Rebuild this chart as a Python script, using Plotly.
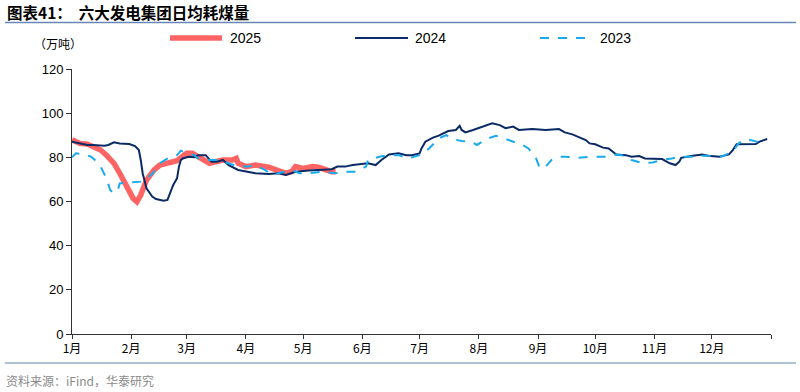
import plotly.graph_objects as go

# ---------------- data ----------------
dates_2025 = ["01-01","01-05","01-09","01-12","01-16","01-19","01-23","01-26","01-29","01-31",
              "02-02","02-04","02-06","02-09","02-13","02-16","02-20","02-25","03-01","03-04",
              "03-07","03-13","03-16","03-20","03-25","03-27","03-28","04-01","04-06","04-09",
              "04-13","04-18","04-22","04-25","04-27","05-01","05-06","05-09","05-13","05-16","05-18"]
vals_2025 = [88,86.3,86,84.8,83.3,81,77.3,72.8,68.2,64.4,
             61.4,59.9,62.9,69.7,74.3,76.5,77.3,78.5,81.8,81.8,
             80.3,77.3,78,78.8,78.8,79.5,77.3,75.8,76.5,76,
             75.5,74,72.8,73.5,75.8,75,75.8,75.5,74.3,73.5,73.5]

dates_2024 = ["01-01","01-05","01-09","01-12","01-18","01-20","01-23","01-26","01-31","02-03",
              "02-05","02-06","02-07","02-09","02-12","02-14","02-18","02-20","02-21","02-23",
              "02-25","02-26","02-27","02-28","03-02","03-05","03-07","03-11","03-14","03-17",
              "03-20","03-23","03-28","04-01","04-06","04-13","04-18","04-22","04-27","05-04",
              "05-11","05-16","05-19","05-23","05-27","06-01","06-04","06-08","06-11","06-15",
              "06-20","06-24","06-27","07-01","07-02","07-04","07-08","07-11","07-14","07-16",
              "07-20","07-22","07-23","07-25","07-29","08-01","08-05","08-08","08-12","08-15",
              "08-19","08-22","08-29","09-05","09-12","09-15","09-19","09-22","09-26","09-28",
              "10-01","10-05","10-08","10-12","10-17","10-20","10-24","10-27","11-02","11-05",
              "11-09","11-12","11-14","11-15","11-21","11-26","11-29","12-05","12-10","12-12",
              "12-14","12-19","12-24","12-26","12-30"]
vals_2024 = [87.1,86.3,85.6,85.6,85.3,85.6,86.8,86.3,86,85.1,
             83.3,78.8,72.8,66,62.2,61.1,60.4,60.7,62.9,67.5,
             70.5,75.8,78.8,79.5,80.3,80,81,81,78,78,
             78.8,76.5,74.3,73.5,72.8,72.5,72.8,72,73.5,74,
             74.3,74.6,75.8,75.8,76.5,77,77.3,76.5,78.8,81.3,
             81.8,81,81,81.8,84,87.1,88.9,89.8,90.9,91.9,
             92.4,94.3,92.4,91.3,92.4,93.2,94.6,95.4,94.6,93.2,
             93.9,92.4,92.8,92.4,92.8,91.3,90.4,89.3,87.8,86.3,
             85.9,84.4,84,81.3,81,80.3,80.6,79.5,79.1,79.2,
             77.3,76.5,78,79.8,80.7,81.3,80.7,80.3,81.3,83.3,
             85.9,86,86,87.1,88.3]

dates_2023 = ["01-01","01-03","01-07","01-11","01-13","01-16","01-19","01-21","01-23","01-25",
              "01-26","01-30","02-02","02-06","02-09","02-13","02-16","02-20","02-25","02-27",
              "03-01","03-05","03-07","03-13","03-18","03-23","03-28","04-02","04-06","04-11",
              "04-15","04-18","04-22","04-25","04-29","05-04","05-11","05-18","05-23","05-28",
              "06-03","06-04","06-10","06-15","06-20","06-25","07-01","07-06","07-11","07-15",
              "07-18","07-23","07-28","07-31","08-05","08-10","08-13","08-19","08-24","08-27",
              "08-31","09-02","09-05","09-08","09-12","09-15","09-22","09-29","10-06","10-12",
              "10-17","10-20","10-26","10-31","11-05","11-10","11-15","11-21","11-26","12-01",
              "12-06","12-12","12-15","12-19","12-22","12-26","12-29"]
vals_2023 = [80,81.8,81.5,80.3,78.8,75.8,70.5,65.2,63.7,65.2,
             68.2,68.5,68.5,69,70,73.5,77.3,79.5,81,83,
             81.8,81,79.5,78.8,78.8,77.3,75.8,75.8,76.5,74.3,
             72,72.8,73.5,74.3,72.8,72.8,73.5,72.8,73.5,73.5,
             75.8,78.8,80.3,81,81,79.5,81,84,88.6,90.1,
             88.3,87.4,87.1,85.6,88.3,89.8,88.9,87.1,85.6,84,
             79.5,75,75.8,78.8,80.3,80.3,79.8,80.3,80.3,81.3,
             80.7,78.8,77.3,77.7,78.8,79.5,80.3,80.3,80.7,80.7,
             80.3,82.6,86.3,88.3,87.8,86.8,87]

month_ticks = ["2024-01-01","2024-02-01","2024-03-01","2024-04-01","2024-05-01","2024-06-01",
               "2024-07-01","2024-08-01","2024-09-01","2024-10-01","2024-11-01","2024-12-01","2025-01-01"]
month_labels = ["1月","2月","3月","4月","5月","6月","7月","8月","9月","10月","11月","12月",""]

def on_axis(md):
    return ["2024-" + d for d in md]

# layout geometry (pixels)
W, H = 800, 392
L, R, T, B = 72, 29, 69, 58
PW, PH = W - L - R, H - T - B
def px(x):
    return (x - L) / PW
def py(y):
    return (H - B - y) / PH

CJK = "Noto Sans CJK SC"
series = [
    ("2025", dates_2025, vals_2025, dict(color="#FF6464", width=5.5), 170, 222, 228),
    ("2024", dates_2024, vals_2024, dict(color="#0B2A66", width=2), 355, 408, 413),
    ("2023", dates_2023, vals_2023, dict(color="#1AAAEE", width=2, dash="dash"), 540, 592, 598),
]

fig = go.Figure()
for name, d, v, ln, _, _, _ in series:
    fig.add_trace(go.Scatter(x=on_axis(d), y=v, name=name, mode="lines", line=ln))

fig.update_layout(
    width=W, height=H,
    margin=dict(l=L, r=R, t=T, b=B),
    paper_bgcolor="white", plot_bgcolor="white",
    showlegend=False,
    xaxis=dict(type="date", range=["2024-01-01", "2025-01-01"],
               tickmode="array", tickvals=month_ticks, ticktext=month_labels,
               ticks="outside", ticklen=4, tickcolor="#333", showgrid=False,
               showline=True, linecolor="#333", linewidth=1, zeroline=False,
               tickfont=dict(family=CJK, size=12, color="#000")),
    yaxis=dict(range=[0, 120], dtick=20, tick0=0, ticks="outside", ticklen=5,
               tickcolor="#333", showgrid=False, showline=True, linecolor="#333",
               linewidth=1, zeroline=False,
               tickfont=dict(family="Liberation Sans, Arial", size=13, color="#000")),
    font=dict(family=CJK),
)

# manual legend
for name, _, _, ln, x0, x1, xt in series:
    fig.add_shape(type="line", xref="paper", yref="paper", x0=px(x0), x1=px(x1),
                  y0=py(38), y1=py(38), line=dict(ln))
    fig.add_annotation(text=name, xref="paper", yref="paper", x=px(xt), y=py(38),
                       xanchor="left", yanchor="middle", showarrow=False,
                       font=dict(family="Liberation Sans, Arial", size=14, color="#000"))

fig.add_annotation(text="<b>图表41：  六大发电集团日均耗煤量</b>", xref="paper", yref="paper",
                   x=px(5), y=py(12), xanchor="left", yanchor="middle", showarrow=False,
                   font=dict(family=CJK, size=15.5, color="#000"))
fig.add_annotation(text="（万吨）", xref="paper", yref="paper",
                   x=px(32), y=py(43), xanchor="left", yanchor="middle", showarrow=False,
                   font=dict(family=CJK, size=12, color="#000"))
fig.add_annotation(text="资料来源：iFind，华泰研究", xref="paper", yref="paper",
                   x=px(4), y=py(380), xanchor="left", yanchor="middle", showarrow=False,
                   font=dict(family=CJK, size=12, color="#8A8A8A"))
fig.add_shape(type="line", xref="paper", yref="paper", x0=px(5), x1=px(796),
              y0=py(22.5), y1=py(22.5), line=dict(color="#6A86B5", width=1.5))
fig.add_shape(type="line", xref="paper", yref="paper", x0=px(5), x1=px(796),
              y0=py(363), y1=py(363), line=dict(color="#AFC2D6", width=2))

fig.write_html("out.html", config={"displayModeBar": False, "staticPlot": True},
               post_script="document.body.style.margin='0px';document.body.style.overflow='hidden';")
